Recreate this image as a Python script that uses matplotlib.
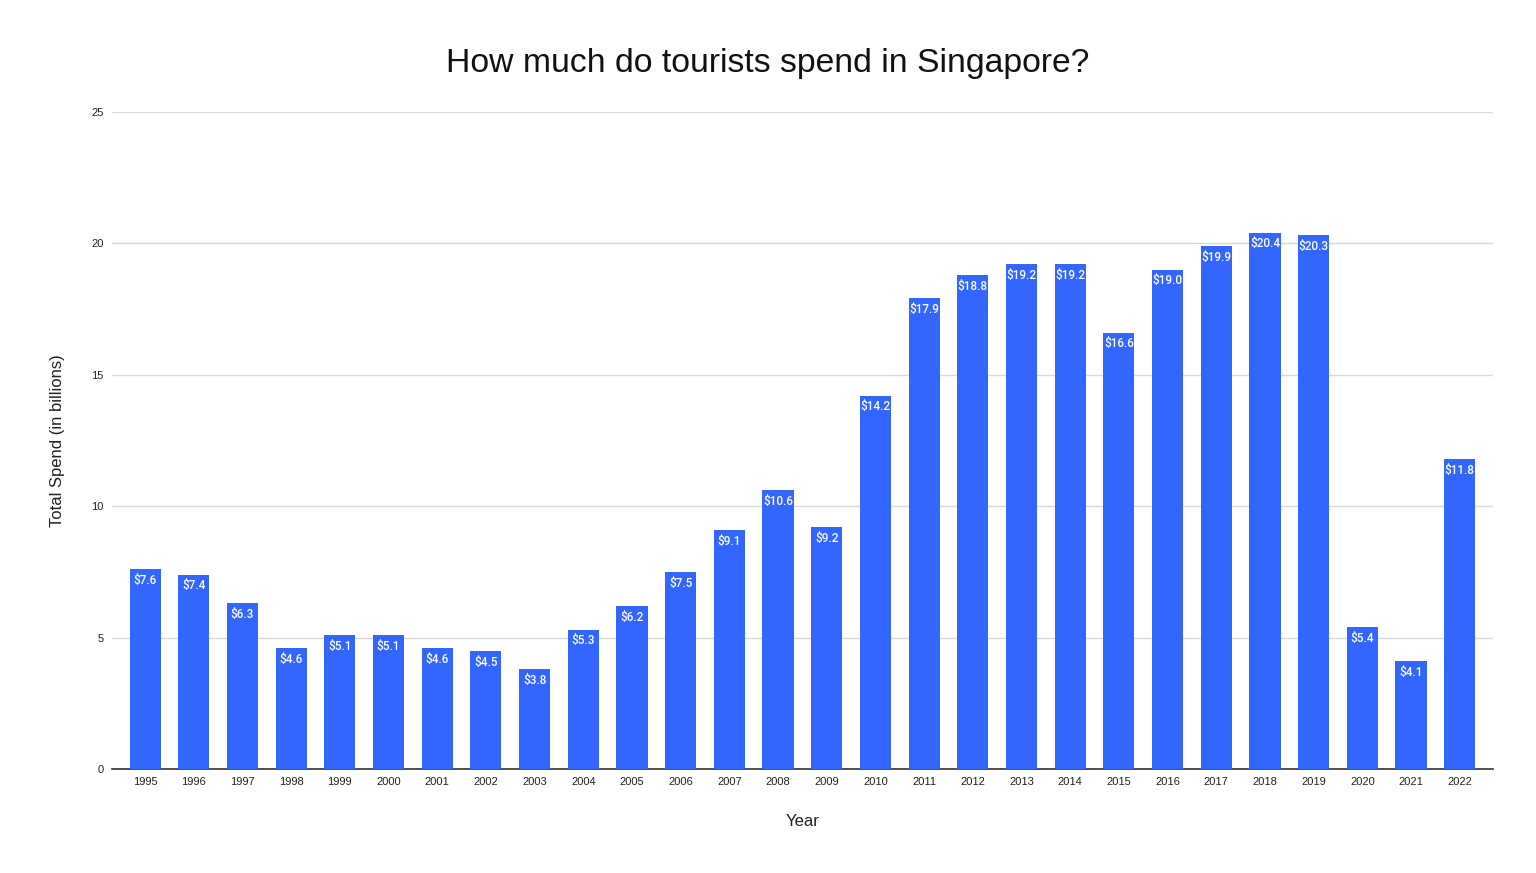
import numpy as np
import matplotlib.pyplot as plt

plt.rcParams['font.family'] = ['Liberation Sans', 'DejaVu Sans']

years = [str(y) for y in range(1995, 2023)]
spend = [7.6, 7.4, 6.3, 4.6, 5.1, 5.1, 4.6, 4.5, 3.8, 5.3, 6.2, 7.5, 9.1, 10.6,
         9.2, 14.2, 17.9, 18.8, 19.2, 19.2, 16.6, 19.0, 19.9, 20.4, 20.3, 5.4, 4.1, 11.8]

fig = plt.figure(figsize=(15.36, 8.73), dpi=100)
ax = fig.add_axes([0.0729, 0.119, 0.899, 0.753])

x = np.arange(len(years))
bars = ax.bar(x, spend, width=0.64, color='#3366ff', zorder=3)

for b, v in zip(bars, spend):
    ax.text(b.get_x() + b.get_width() / 2, v - 0.18, '$%.1f' % v,
            ha='center', va='top', color='white', fontsize=8.5,
            family=['Roboto', 'DejaVu Sans'], fontweight='medium', zorder=4)

ax.set_xlim(-0.68, len(years) - 1 + 0.68)
ax.set_ylim(0, 25)
ax.set_yticks([0, 5, 10, 15, 20, 25])
ax.set_xticks(x)
ax.set_xticklabels(years)
ax.tick_params(axis='both', length=0, labelsize=8, colors='#222222', pad=6)
ax.grid(axis='y', color='#d9d9d9', linewidth=1, zorder=0)

for s in ['top', 'right', 'left']:
    ax.spines[s].set_visible(False)
ax.spines['bottom'].set_color('#333333')
ax.spines['bottom'].set_linewidth(1.2)

ax.set_xlabel('Year', fontsize=12, color='#222222', labelpad=19)
ax.set_ylabel('Total Spend (in billions)', fontsize=12, color='#222222', labelpad=19)
fig.suptitle('How much do tourists spend in Singapore?', fontsize=24.3, color='#111111', y=0.945)

plt.savefig('out.png')
